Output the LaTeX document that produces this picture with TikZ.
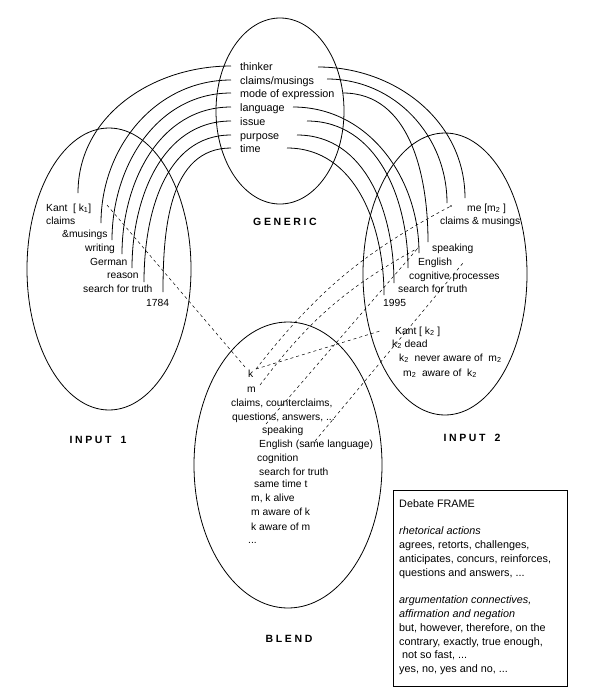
\documentclass[tikz,border=0pt]{standalone}
\usepackage{fontspec}
\setmainfont{Liberation Sans}
\usetikzlibrary{shapes.geometric}

\tikzset{
  space/.style={draw, ellipse, line width=0.8pt, inner sep=0pt},
  item/.style={anchor=base west, inner sep=0pt, font=\fontsize{10.3}{12}\selectfont},
  gitem/.style={item, font=\fontsize{10.8}{12}\selectfont},
  title/.style={inner sep=0pt, font=\fontsize{10.5}{12}\selectfont\bfseries\addfontfeatures{LetterSpace=25}},
  link/.style={line width=0.8pt},
  map/.style={line width=0.5pt, dash pattern=on 3pt off 3pt},
}

\begin{document}
\begin{tikzpicture}[x=1pt,y=1pt]
  \useasboundingbox (0,0) rectangle (591,-691);

  % mental spaces
  \node[space, minimum width=128pt, minimum height=186pt] (generic) at (280,-111) {};
  \node[space, minimum width=164pt, minimum height=282pt] (input1) at (109,-269) {};
  \node[space, minimum width=164pt, minimum height=282pt] (input2) at (445,-274) {};
  \node[space, minimum width=188pt, minimum height=286pt] (blend) at (288,-465) {};

  \node[title] (genericlbl) at (285,-222) {GENERIC};
  \node[title] (input1lbl) at (98,-440) {INPUT\hspace{9pt}1};
  \node[title] (input2lbl) at (472,-438) {INPUT\hspace{9pt}2};
  \node[title] (blendlbl) at (289,-639) {BLEND};

  % generic space
  \node[gitem] (gthinker) at (240,-70) {thinker};
  \node[gitem] (gclaims) at (240,-84) {claims/musings};
  \node[gitem] (gmode) at (240,-97) {mode of expression};
  \node[gitem] (glanguage) at (240,-111) {language};
  \node[gitem] (gissue) at (240,-125) {issue};
  \node[gitem] (gpurpose) at (240,-139) {purpose};
  \node[gitem] (gtime) at (240,-152) {time};

  % input 1
  \node[item] (akant) at (46,-211) {Kant \ [ k\textsubscript{1}]};
  \node[item] (aclaims) at (46,-224) {claims};
  \node[item] (amusings) at (62,-237) {\&musings};
  \node[item] (awriting) at (85,-251) {writing};
  \node[item] (agerman) at (90,-265) {German};
  \node[item] (areason) at (107,-278) {reason};
  \node[item] (atruth) at (83,-292) {search for truth};
  \node[item] (ayear) at (146,-306) {1784};

  % input 2
  \node[item] (bme) at (467,-211) {me [m\textsubscript{2} ]};
  \node[item] (bclaims) at (440,-224) {claims \& musings};
  \node[item] (bspeaking) at (432,-251) {speaking};
  \node[item] (benglish) at (418,-265) {English};
  \node[item] (bcognitive) at (409,-279) {cognitive processes};
  \node[item] (btruth) at (398,-292) {search for truth};
  \node[item] (byear) at (383,-306) {1995};
  \node[item] (bkant) at (395,-334) {Kant [ k\textsubscript{2} ]};
  \node[item] (bdead) at (392,-347) {k\textsubscript{2} dead};
  \node[item] (bnever) at (399,-361) {k\textsubscript{2} \ never aware of \ m\textsubscript{2}};
  \node[item] (baware) at (403,-376) {m\textsubscript{2} \ aware of \ k\textsubscript{2}};

  % blend
  \node[item] (ck) at (248,-377) {k};
  \node[item] (cm) at (247,-392) {m};
  \node[item] (cclaims) at (231,-406) {claims, counterclaims,};
  \node[item] (cquestions) at (232,-420) {questions, answers, ...};
  \node[item] (cspeaking) at (262,-433) {speaking};
  \node[item] (cenglish) at (259,-447) {English (same language)};
  \node[item] (ccognition) at (257,-461) {cognition};
  \node[item] (ctruth) at (259,-475) {search for truth};
  \node[item] (ctime) at (254,-487) {same time t};
  \node[item] (calive) at (251,-501) {m, k alive};
  \node[item] (cmaware) at (251,-515) {m aware of k};
  \node[item] (ckaware) at (251,-530) {k aware of m};
  \node[item] (cdots) at (248,-543) {...};

  % debate frame
  \node[draw, line width=0.8pt, anchor=north west, minimum width=174pt, minimum height=196pt] (frame) at (393,-490) {};
  \node[anchor=north west, inner sep=0pt, align=left, font=\fontsize{10.8}{13.8}\selectfont] (frametext) at (399,-499) {%
    Debate FRAME\\[13.8pt]
    \textit{rhetorical actions}\\
    agrees, retorts, challenges,\\
    anticipates, concurs, reinforces,\\
    questions and answers, ...\\[13.8pt]
    \textit{argumentation connectives,}\\
    \textit{affirmation and negation}\\
    but, however, therefore, on the\\
    contrary, exactly, true enough,\\
    \ not so fast, ...\\
    yes, no, yes and no, ...};

  % ends of the counterpart links
  \coordinate (gl1) at (231,-66);  \coordinate (a1) at (78,-193);
  \coordinate (gl2) at (231,-80);  \coordinate (a2) at (101,-223);
  \coordinate (gl3) at (231,-93);  \coordinate (a3) at (112,-240);
  \coordinate (gl4) at (231,-107); \coordinate (a4) at (122,-254);
  \coordinate (gl5) at (231,-121); \coordinate (a5) at (132,-268);
  \coordinate (gl6) at (231,-135); \coordinate (a6) at (144,-282);
  \coordinate (gl7) at (231,-148); \coordinate (a7) at (163,-292);

  \coordinate (gr1) at (318,-67);  \coordinate (b1) at (465,-198);
  \coordinate (gr2) at (327,-79);  \coordinate (b2) at (447,-203);
  \coordinate (gr3) at (343,-93);  \coordinate (b3) at (428,-242);
  \coordinate (gr4) at (293,-107); \coordinate (b4) at (419,-253);
  \coordinate (gr5) at (307,-121); \coordinate (b5) at (408,-268);
  \coordinate (gr6) at (297,-135); \coordinate (b6) at (394,-283);
  \coordinate (gr7) at (287,-148); \coordinate (b7) at (384,-295);

  \foreach \i in {1,...,7} {
    \draw[link] (gl\i) to[out=180,in=90] (a\i);
    \draw[link] (gr\i) to[out=0,in=90] (b\i);
  }

  % cross-space mappings
  \coordinate (kin1) at (107,-205);
  \coordinate (kbl) at (245,-367);
  \coordinate (kbr) at (256,-369);
  \coordinate (kin2) at (380,-331);
  \coordinate (mbl) at (260,-385);
  \coordinate (mein2) at (451,-206);
  \coordinate (spbl) at (266,-424);
  \coordinate (spin2) at (418,-248);
  \coordinate (engbl) at (315,-441);
  \coordinate (engin2) at (463,-263);

  \draw[map] (kin1) -- (kbl);
  \draw[map] (kbr) -- (kin2);
  \draw[map] (kbr) to[bend left=12] (mein2);
  \draw[map] (mbl) to[bend left=12] (spin2);
  \draw[map] (spbl) -- (spin2);
  \draw[map] (engbl) -- (engin2);
  \fill (mein2) circle (0.8pt);
\end{tikzpicture}
\end{document}
